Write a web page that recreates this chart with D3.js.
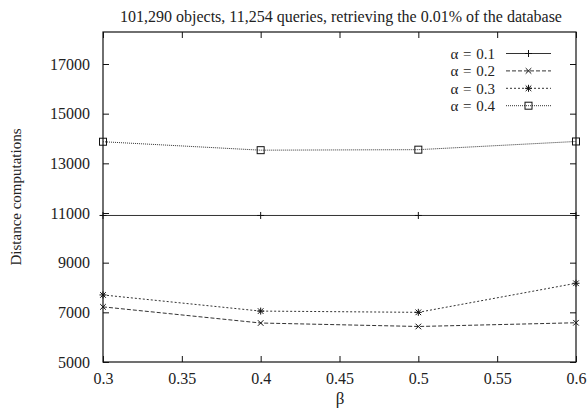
<!DOCTYPE html>
<html>
<head>
<meta charset="utf-8">
<script src="https://cdn.jsdelivr.net/npm/d3@7"></script>
<style>
  html, body { margin: 0; padding: 0; background: #fff; }
  svg { display: block; }
  text { font-family: "Liberation Serif", "Times New Roman", serif; fill: #222; }
</style>
</head>
<body>
<svg id="chart" width="587" height="416"></svg>
<script>
// Distance computations for each beta, one series per alpha
const betas = [0.3, 0.4, 0.5, 0.6];
const alpha01 = [10900, 10900, 10900, 10900];
const alpha02 = [7220, 6570, 6430, 6580];
const alpha03 = [7700, 7050, 7000, 8170];
const alpha04 = [13870, 13530, 13550, 13880];
const seriesNames = ["α = 0.1", "α = 0.2", "α = 0.3", "α = 0.4"];
const xTicks = [0.3, 0.35, 0.4, 0.45, 0.5, 0.55, 0.6];
const yTicks = [5000, 7000, 9000, 11000, 13000, 15000, 17000];
const titleText = "101,290 objects, 11,254 queries, retrieving the 0.01% of the database";

const series = [
  { name: seriesNames[0], values: alpha01, dash: null, marker: "plus" },
  { name: seriesNames[1], values: alpha02, dash: "4,2", marker: "cross" },
  { name: seriesNames[2], values: alpha03, dash: "2,2", marker: "star" },
  { name: seriesNames[3], values: alpha04, dash: "1,1", marker: "square" }
];

const svg = d3.select("#chart");
const plotLeft = 103, plotRight = 576, plotTop = 32, plotBottom = 362;

const x = d3.scaleLinear().domain([0.3, 0.6]).range([plotLeft, plotRight]);
const yPerUnit = (362 - 64) / 12000;
const y = d3.scaleLinear()
  .domain([5000, 5000 + (plotBottom - plotTop) / yPerUnit])
  .range([plotBottom, plotTop]);

const ink = "#111";
const tickLen = 6;

// frame
svg.append("rect")
  .attr("x", plotLeft).attr("y", plotTop)
  .attr("width", plotRight - plotLeft).attr("height", plotBottom - plotTop)
  .attr("fill", "none").attr("stroke", ink).attr("stroke-width", 1.2);

// axes with inward ticks, mirrored on opposite sides
const gx = svg.append("g").attr("transform", `translate(0,${plotBottom})`)
  .call(d3.axisBottom(x).tickValues(xTicks).tickSize(-tickLen).tickPadding(9)
    .tickFormat(d => String(+d.toFixed(2))));
const gxTop = svg.append("g").attr("transform", `translate(0,${plotTop})`)
  .call(d3.axisTop(x).tickValues(xTicks).tickSize(-tickLen).tickFormat(""));
const gy = svg.append("g").attr("transform", `translate(${plotLeft},0)`)
  .call(d3.axisLeft(y).tickValues(yTicks).tickSize(-tickLen).tickPadding(13)
    .tickFormat(d3.format("d")));
const gyRight = svg.append("g").attr("transform", `translate(${plotRight},0)`)
  .call(d3.axisRight(y).tickValues(yTicks).tickSize(-tickLen).tickFormat(""));

[gx, gxTop, gy, gyRight].forEach(g => {
  g.select(".domain").remove();
  g.selectAll(".tick line").attr("stroke", ink).attr("stroke-width", 1);
  g.selectAll(".tick text").attr("font-size", 16).attr("fill", "#222");
});
gx.selectAll(".tick text").attr("dy", "0.8em");

// titles
svg.append("text").attr("x", 341).attr("y", 22)
  .attr("text-anchor", "middle").attr("font-size", 16).text(titleText);
svg.append("text").attr("x", 340).attr("y", 404)
  .attr("text-anchor", "middle").attr("font-size", 17).text("β");
svg.append("text")
  .attr("transform", "translate(21,197) rotate(-90)")
  .attr("text-anchor", "middle").attr("font-size", 15).text("Distance computations");

// marker drawing
function drawMarker(g, kind, cx, cy) {
  const s = 3.5;
  if (kind === "plus" || kind === "star") {
    g.append("path").attr("d", `M${cx - s},${cy}H${cx + s}M${cx},${cy - s}V${cy + s}`)
      .attr("stroke", ink).attr("stroke-width", 1).attr("fill", "none");
  }
  if (kind === "cross" || kind === "star") {
    const d = s * 0.8;
    g.append("path").attr("d", `M${cx - d},${cy - d}L${cx + d},${cy + d}M${cx - d},${cy + d}L${cx + d},${cy - d}`)
      .attr("stroke", ink).attr("stroke-width", 1).attr("fill", "none");
  }
  if (kind === "square") {
    g.append("rect").attr("x", cx - 3.5).attr("y", cy - 3.5).attr("width", 7).attr("height", 7)
      .attr("stroke", ink).attr("stroke-width", 1).attr("fill", "none");
  }
}

const line = d3.line().x((d, i) => x(betas[i])).y(d => y(d));
const plot = svg.append("g");
series.forEach(s => {
  plot.append("path").datum(s.values)
    .attr("d", line)
    .attr("fill", "none").attr("stroke", "#333").attr("stroke-width", 1)
    .attr("stroke-dasharray", s.dash);
  s.values.forEach((v, i) => drawMarker(plot, s.marker, x(betas[i]), y(v)));
});

// legend: label, line sample and marker per series
const legend = svg.append("g");
const rowY0 = 53.5, rowStep = 17.4;
series.forEach((s, i) => {
  const ry = rowY0 + i * rowStep;
  legend.append("text").attr("x", 495).attr("y", ry).attr("dy", "0.35em")
    .attr("text-anchor", "end").attr("font-size", 15)
    .attr("word-spacing", "1px").text(s.name);
  legend.append("path").attr("d", `M506,${ry}H551`)
    .attr("stroke", "#333").attr("stroke-width", 1).attr("fill", "none")
    .attr("stroke-dasharray", s.dash);
  drawMarker(legend, s.marker, 528.5, ry);
});
</script>
</body>
</html>
